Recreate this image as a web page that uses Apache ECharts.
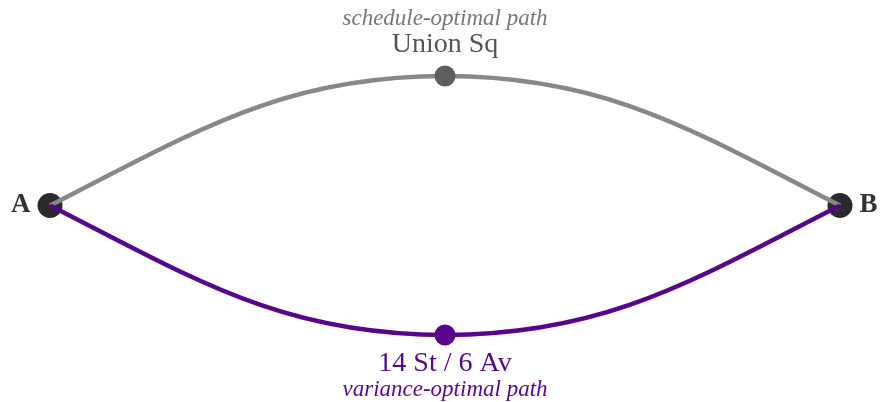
<!DOCTYPE html>
<html><head><meta charset="utf-8">
<script src="https://cdn.jsdelivr.net/npm/echarts@6/dist/echarts.min.js"></script>
<style>html,body{margin:0;padding:0;background:#fff}#c{width:881px;height:402px}</style>
</head><body><div id="c"></div>
<script>
// ---- data ----
const endpointNames = ['A', 'B'];
const endpointX = [0, 100];
const endpointY = [0, 0];
const pathNames = ['schedule-optimal path', 'variance-optimal path'];
const viaStations = ['Union Sq', '14 St / 6 Av'];
const viaX = [50, 50];
const viaY = [1, -1];

// ---- styles ----
const lineColors = ['#888888', '#57068c'];
const dotColors = ['#5e5e5e', '#57068c'];
const nameColors = ['#555555', '#57068c'];
const noteColors = ['#777777', '#57068c'];
const SERIF = '"Liberation Serif", "Times New Roman", serif';
const OUT_ANGLE = 27 * Math.PI / 180;

function pathSegments(i) {
  // each segment goes from an endpoint node to the via station
  return endpointNames.map((n, k) => [endpointX[k], endpointY[k], viaX[i], viaY[i]]);
}

function renderCurve(color) {
  return function (params, api) {
    const p0 = api.coord([api.value(0), api.value(1)]);
    const p3 = api.coord([api.value(2), api.value(3)]);
    const dx = p3[0] - p0[0], dy = p3[1] - p0[1];
    const d = 0.39 * Math.sqrt(dx * dx + dy * dy);
    const sx = Math.sign(dx), sy = Math.sign(dy);
    return {
      type: 'bezierCurve',
      shape: {
        x1: p0[0], y1: p0[1], x2: p3[0], y2: p3[1],
        cpx1: p0[0] + sx * d * Math.cos(OUT_ANGLE), cpy1: p0[1] + sy * d * Math.sin(OUT_ANGLE),
        cpx2: p3[0] - sx * d, cpy2: p3[1]
      },
      style: { stroke: color, lineWidth: 4.5, fill: null, opacity: 1 }
    };
  };
}

const series = [];
series.push({
  type: 'scatter', z: 2,
  symbolSize: 25,
  itemStyle: { color: '#2b2b2b', opacity: 1 },
  data: endpointNames.map((n, k) => ({
    name: n, value: [endpointX[k], endpointY[k]],
    label: { show: true, position: k === 0 ? 'left' : 'right', distance: 7,
      formatter: n, color: '#333', fontFamily: SERIF, fontWeight: 'bold', fontSize: 27 }
  })),
  silent: true
});
pathNames.forEach((p, i) => {
  series.push({
    type: 'custom', z: 3 + i,
    coordinateSystem: 'cartesian2d',
    encode: { x: [0, 2], y: [1, 3] },
    renderItem: renderCurve(lineColors[i]),
    data: pathSegments(i),
    silent: true
  });
});
series.push({
  type: 'scatter', z: 6,
  symbolSize: 21,
  silent: true,
  data: viaStations.map((s, i) => ({
    name: s, value: [viaX[i], viaY[i]],
    itemStyle: { color: dotColors[i], opacity: 1 },
    label: {
      show: true,
      position: viaY[i] > 0 ? 'top' : 'bottom',
      distance: viaY[i] > 0 ? 8 : 5,
      formatter: viaY[i] > 0 ? '{s|' + pathNames[i] + '}\n{n|' + s + '}'
                             : '{n|' + s + '}\n{s|' + pathNames[i] + '}',
      rich: {
        n: { fontFamily: SERIF, fontSize: 28, lineHeight: 26, color: nameColors[i] },
        s: { fontFamily: SERIF, fontSize: 23, fontStyle: 'italic', lineHeight: 26, color: noteColors[i] }
      }
    }
  }))
});

const chart = echarts.init(document.getElementById('c'), null, { renderer: 'canvas' });
chart.setOption({
  animation: false,
  backgroundColor: '#ffffff',
  grid: { left: 50, right: 41, top: 76, bottom: 67 },
  xAxis: { type: 'value', min: 0, max: 100, show: false },
  yAxis: { type: 'value', min: -1, max: 1, show: false },
  series: series
});
</script>
</body></html>
